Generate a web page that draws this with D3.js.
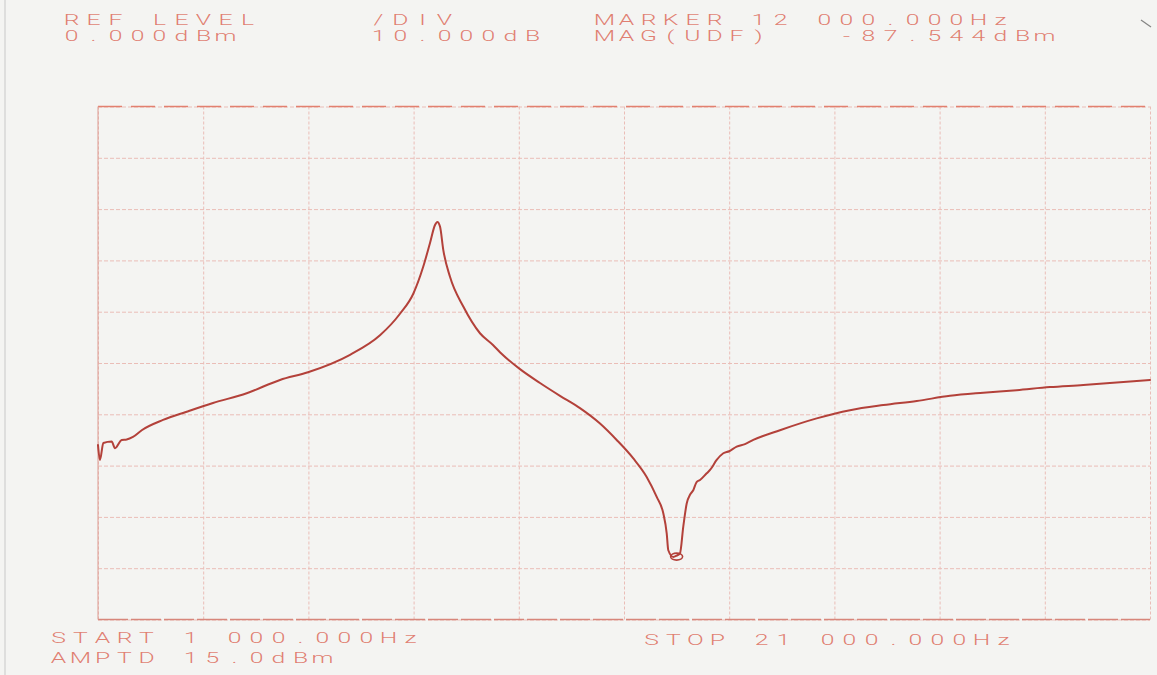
<!DOCTYPE html>
<html>
<head>
<meta charset="utf-8">
<script src="https://cdn.jsdelivr.net/npm/d3@7/dist/d3.min.js"></script>
<style>
  html, body { margin: 0; padding: 0; background: #f4f4f2; }
  svg { display: block; }
</style>
</head>
<body>
<svg id="chart" width="1157" height="675"></svg>
<script>
// Sweep settings: 1 kHz to 21 kHz, 0 dBm reference, 10 dB/div
const freqTicks = [1000, 3000, 5000, 7000, 9000, 11000, 13000, 15000, 17000, 19000, 21000];
const dbTicks = [0, -10, -20, -30, -40, -50, -60, -70, -80, -90, -100];

// Measured response (frequency in Hz, magnitude in dBm)
const freqHz = [
  1000, 1038, 1101, 1260, 1323, 1451, 1546, 1665, 1831, 2236, 2686, 3186, 3827, 4460,
  4992, 5791, 6361, 6741, 6994, 7184, 7312, 7407, 7451, 7502, 7565, 7692, 7945, 8262, 8509,
  8642, 9023, 9403, 9783, 10163, 10544, 10861, 11177, 11431, 11622, 11747, 11812, 11842,
  11937, 12000, 12064, 12127, 12192, 12260, 12317, 12380, 12445, 12572, 12640, 12762,
  12888, 13000, 13142, 13300, 13458, 13965, 14663, 15297, 15930, 16565, 17197, 17831,
  18466, 19098, 19732, 20366, 21000
];
const magDb = [
  -66.0, -68.9, -65.6, -65.3, -66.6, -65.0, -64.9, -64.4, -63.1, -61.1, -59.5, -57.8, -55.9, -53.3,
  -51.8, -48.4, -44.6, -40.4, -36.5, -31.2, -26.6, -23.1, -22.5, -23.4, -28.0, -33.2, -39.0, -44.2, -46.5,
  -47.9, -51.2, -53.9, -56.4, -58.8, -61.8, -65.0, -68.6, -72.2, -76.1, -79.3, -83.2, -86.5,
  -87.8, -87.544, -87.1, -81.9, -77.4, -75.6, -74.8, -73.2, -72.8, -71.5, -70.8, -68.9,
  -67.6, -67.2, -66.3, -65.8, -65.0, -63.1, -60.8, -59.2, -58.2, -57.4, -56.4, -55.8,
  -55.3, -54.7, -54.3, -53.8, -53.3
];

// Marker readout
const markerHz = 12000;
const markerDb = -87.544;

// Instrument annotations: each field starts at a character column of a printed row
const pitch = 22;
const headerLabels = [
  { text: "REF LEVEL", x0: 65, col: 0, y: 25 },
  { text: "/DIV", x0: 372, col: 0, y: 25 },
  { text: "MARKER 12 000.000Hz", x0: 598, col: 0, y: 25 },
  { text: "0.000dBm", x0: 65, col: 0, y: 41 },
  { text: "10.000dB", x0: 372, col: 0, y: 41 },
  { text: "MAG(UDF)", x0: 598, col: 0, y: 41 },
  { text: "-87.544dBm", x0: 598, col: 11, y: 41 }
];
const footerLabels = [
  { text: "START", x0: 52, col: 0, y: 643 },
  { text: "1", x0: 52, col: 6, y: 643 },
  { text: "000.000Hz", x0: 52, col: 8, y: 643 },
  { text: "AMPTD", x0: 52, col: 0, y: 663 },
  { text: "15.0dBm", x0: 52, col: 6, y: 663 },
  { text: "STOP", x0: 645, col: 0, y: 645 },
  { text: "21", x0: 645, col: 5, y: 645 },
  { text: "000.000Hz", x0: 645, col: 8, y: 645 }
];

const svg = d3.select("#chart");
const plotLeft = 98, plotRight = 1150, plotTop = 106.5, plotBottom = 619.5;

const x = d3.scaleLinear().domain([1000, 21000]).range([plotLeft, plotRight]);
const y = d3.scaleLinear().domain([-100, 0]).range([plotBottom, plotTop]);

const gridColor = "#eabdb7";
const inkColor = "#b3413a";
const textColor = "#de7365";

// Vertical graticule
const gx = svg.append("g")
  .attr("transform", `translate(0,${plotBottom})`)
  .call(d3.axisBottom(x).tickValues(freqTicks).tickSize(-(plotBottom - plotTop)).tickFormat(""));
gx.select(".domain").remove();
gx.selectAll(".tick line")
  .attr("stroke", gridColor)
  .attr("stroke-width", 1)
  .attr("stroke-dasharray", "3,2");

// Horizontal graticule
const gy = svg.append("g")
  .attr("transform", `translate(${plotLeft},0)`)
  .call(d3.axisLeft(y).tickValues(dbTicks).tickSize(-(plotRight - plotLeft)).tickFormat(""));
gy.select(".domain").remove();
gy.selectAll(".tick line")
  .attr("stroke", gridColor)
  .attr("stroke-width", 1)
  .attr("stroke-dasharray", "4,2");

// Top edge: long plotter dashes
svg.append("line")
  .attr("x1", plotLeft).attr("x2", plotRight)
  .attr("y1", y(0)).attr("y2", y(0))
  .attr("stroke", "#e2806f").attr("stroke-width", 1.3)
  .attr("stroke-dasharray", "24,9");

// Bottom edge
svg.append("line")
  .attr("x1", plotLeft).attr("x2", plotRight)
  .attr("y1", y(-100)).attr("y2", y(-100))
  .attr("stroke", "#d7867b").attr("stroke-width", 1.3)
  .attr("stroke-dasharray", "30,3");

// Left edge
svg.append("line")
  .attr("x1", x(1000)).attr("x2", x(1000))
  .attr("y1", plotTop).attr("y2", plotBottom)
  .attr("stroke", "#dea39b").attr("stroke-width", 1.1);

// Response trace
const trace = freqHz.map((f, i) => [f, magDb[i]]);
svg.append("path")
  .datum(trace)
  .attr("fill", "none")
  .attr("stroke", inkColor)
  .attr("stroke-width", 2)
  .attr("stroke-linejoin", "round")
  .attr("stroke-linecap", "round")
  .attr("d", d3.line().curve(d3.curveMonotoneX).x(d => x(d[0])).y(d => y(d[1])));

// Marker symbol at the notch
svg.append("ellipse")
  .attr("cx", x(markerHz)).attr("cy", y(markerDb) + 1)
  .attr("rx", 6).attr("ry", 3.5)
  .attr("fill", "none")
  .attr("stroke", inkColor)
  .attr("stroke-width", 1.6);

// Plotter-style lettering: fixed pitch, wide glyphs centred in each cell
const cellW = 13, sx = 1.65;
function plotText(d) {
  const chars = Array.from(d.text);
  const start = d.x0 + d.col * pitch;
  svg.append("text")
    .attr("transform", `translate(${start + cellW / 2},${d.y}) scale(${sx},1)`)
    .attr("x", chars.map((c, i) => (i * pitch / sx).toFixed(2)).join(" "))
    .attr("y", 0)
    .attr("text-anchor", "middle")
    .attr("font-family", "Roboto, 'DejaVu Sans', sans-serif")
    .attr("font-weight", 300)
    .attr("font-size", 15)
    .attr("fill", textColor)
    .attr("fill-opacity", 0.92)
    .text(d.text);
}
headerLabels.forEach(plotText);
footerLabels.forEach(plotText);

// Scanner edge at the far left and a stray pen stroke at top right
svg.append("line")
  .attr("x1", 5).attr("x2", 5).attr("y1", 0).attr("y2", 675)
  .attr("stroke", "#a0a0a0").attr("stroke-width", 1).attr("opacity", 0.5);
svg.append("line")
  .attr("x1", 1141).attr("y1", 20).attr("x2", 1151).attr("y2", 27)
  .attr("stroke", "#555").attr("stroke-width", 1.2).attr("opacity", 0.7);
</script>
</body>
</html>
